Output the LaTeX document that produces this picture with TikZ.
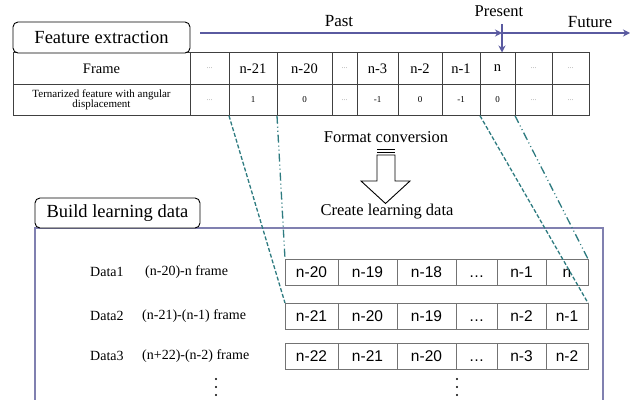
\documentclass[tikz,border=0pt]{standalone}
\usepackage{fontspec}
\setmainfont{Liberation Serif}
\newfontfamily\arialf{Liberation Sans}
\usetikzlibrary{arrows.meta}
\definecolor{tl}{HTML}{5A5AA0}
\definecolor{fr}{HTML}{8080B0}
\definecolor{teal2}{HTML}{2E7B80}
\definecolor{celldraw}{HTML}{404040}
\newcommand{\fs}[1]{\fontsize{#1}{#1}\selectfont}
\tikzset{
  cellbox/.style={draw=celldraw, line width=0.8pt, inner sep=0pt, outer sep=0pt, anchor=center, align=center},
  databox/.style={draw=gray!90!black, line width=0.8pt, inner sep=0pt, outer sep=0pt, minimum height=26pt, text height=11.1pt, text depth=0pt, font=\arialf\fs{15.5}},
  titlebox/.style={draw=black, line width=0.9pt, rounded corners=5pt, fill=white, inner sep=0pt, outer sep=0pt, font=\fs{18.5}},
  dashlink/.style={teal2, line width=1.3pt, dash pattern=on 4pt off 2pt},
  dotlink/.style={teal2, line width=1.3pt, dash pattern=on 8pt off 3pt on 1pt off 3pt on 1pt off 3pt},
  tline/.style={tl, line width=1.3pt, -{Stealth[length=7pt,width=7pt]}},
  lbl/.style={font=\fs{14}, anchor=west, inner sep=0pt},
  vdot/.style={fill=black, circle, inner sep=0pt, minimum size=2.2pt}
}
\begin{document}
\begin{tikzpicture}[x=1pt,y=-1pt]
\useasboundingbox (0,0) rectangle (642,399);
\fill[white] (0,0) rectangle (642,399);

% ---- timeline
\coordinate (tstart) at (200,33);
\coordinate (tpres) at (502,33);
\coordinate (tend) at (630,33);
\coordinate (ptop) at (502,24);
\coordinate (pbot) at (502,52.5);
\draw[tline] (tstart) -- (tpres);
\draw[tline] (tpres) -- (tend);
\draw[tline] (ptop) -- (pbot);
\node[font=\fs{17}] (past) at (339,21) {Past};
\node[font=\fs{16.5}] (present) at (499,11) {Present};
\node[font=\fs{17}] (future) at (590,22) {Future};

% ---- table
\def\rowA{68.5}
\def\rowB{100}
\foreach \i/\l/\r/\ha/\hb in {
  1/190/229/{\textcolor{gray!70}{\fs{8}...}}/{\textcolor{gray!70}{\fs{8}...}},
  2/229/277/{n-21}/{\fs{9}1},
  3/277/332/{n-20}/{\fs{9}0},
  4/332/357/{\textcolor{gray!70}{\fs{8}...}}/{\textcolor{gray!70}{\fs{8}...}},
  5/357/398/{n-3}/{\fs{9}-1},
  6/398/442/{n-2}/{\fs{9}0},
  7/442/480/{n-1}/{\fs{9}-1},
  8/480/515/{n}/{\fs{9}0},
  9/515/552/{\textcolor{gray!70}{\fs{8}...}}/{\textcolor{gray!70}{\fs{8}...}},
  10/552/589/{\textcolor{gray!70}{\fs{8}...}}/{\textcolor{gray!70}{\fs{8}...}}}{
  \pgfmathsetmacro{\cx}{(\l+\r)/2}
  \pgfmathsetmacro{\cw}{\r-\l}
  \node[cellbox, minimum width=\cw pt, minimum height=31.5pt, font=\fs{14.5}] (h\i) at (\cx,\rowA) {\ha};
  \node[cellbox, minimum width=\cw pt, minimum height=31.5pt] (v\i) at (\cx,\rowB) {\hb};
}
\node[cellbox, minimum width=177pt, minimum height=31.5pt, font=\fs{14.5}] (h0) at (101.5,\rowA) {Frame};
\node[cellbox, minimum width=177pt, minimum height=31.5pt, font=\fs{11}] (v0) at (101.5,\rowB) {Ternarized feature with angular\\[-1pt]displacement};

\node[titlebox, minimum width=177pt, minimum height=31pt] (fe) at (101.5,37.5) {Feature extraction};

% ---- conversion arrow
\node[font=\fs{16.5}] (fc) at (386,137) {Format conversion};
\draw[line width=0.9pt] (377,149) -- (395,149) (377,152) -- (395,152);
\draw[line width=0.9pt, fill=white] (377,155) -- (377,181) -- (361,181) -- (385.5,203.5) -- (410,181) -- (395,181) -- (395,155) -- cycle;
\node[font=\fs{16.5}] (cl) at (387,212) {Create learning data};

% ---- learning data frame
\draw[fr, line width=1.2pt] (35,405) -- (35,228) -- (603,228) -- (603,405);
\node[titlebox, minimum width=165pt, minimum height=30pt] (bld) at (117.5,213) {Build learning data};

% ---- data rows
\foreach \rname/\ry/\ta/\tb/\tc/\td/\te/\tf in {
  a/272/n-20/n-19/n-18/…/n-1/n,
  b/316/n-21/n-20/n-19/…/n-2/n-1,
  c/356/n-22/n-21/n-20/…/n-3/n-2}{
  \node[databox, minimum width=53pt] (\rname1) at (311.5,\ry) {\ta};
  \node[databox, minimum width=59pt] (\rname2) at (367.5,\ry) {\tb};
  \node[databox, minimum width=59pt] (\rname3) at (426.5,\ry) {\tc};
  \node[databox, minimum width=41pt] (\rname4) at (476.5,\ry) {\td};
  \node[databox, minimum width=49pt] (\rname5) at (521.5,\ry) {\te};
  \node[databox, minimum width=42pt] (\rname6) at (567,\ry) {\tf};
}

\node[lbl] (l1a) at (90,272) {Data1};
\node[lbl] (l1b) at (145,272) {(n-20)-n frame};
\node[lbl] (l2a) at (90,316) {Data2};
\node[lbl] (l2b) at (142,316) {(n-21)-(n-1) frame};
\node[lbl] (l3a) at (90,356) {Data3};
\node[lbl] (l3b) at (142,356) {(n+22)-(n-2) frame};

% ---- continuation dots
\foreach \dx in {216,457}{
  \node[vdot] at (\dx,379) {};
  \node[vdot] at (\dx,387) {};
  \node[vdot] at (\dx,395) {};
}

% ---- links
\draw[dashlink] (v2.south west) -- (b1.north west);
\draw[dashlink] (v8.south west) -- (b6.north east);
\draw[dotlink] (v3.south west) -- (a1.north west);
\draw[dotlink] (v8.south east) -- (a6.north east);
\end{tikzpicture}
\end{document}
